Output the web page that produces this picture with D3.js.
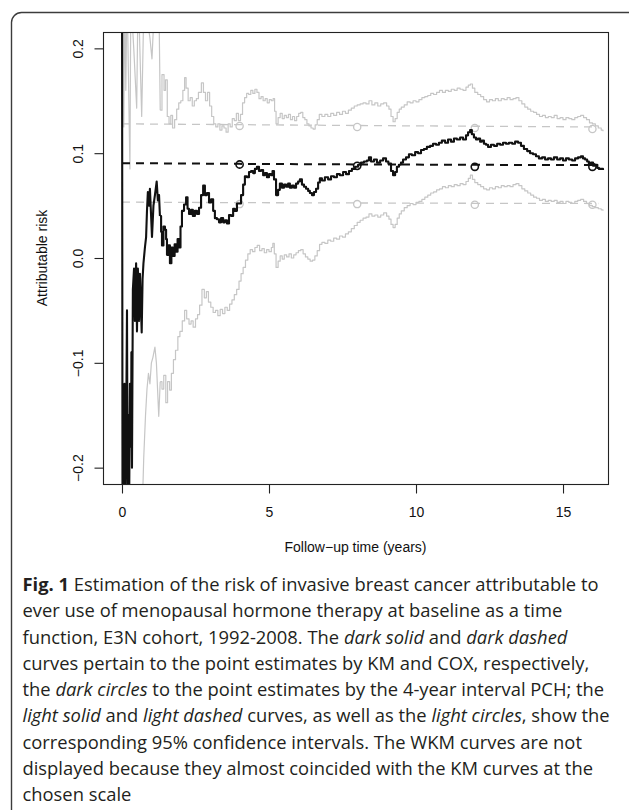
<!DOCTYPE html>
<html>
<head>
<meta charset="utf-8">
<script src="https://cdn.jsdelivr.net/npm/d3@7"></script>
<style>
  html, body { margin: 0; padding: 0; background: #fff; }
  svg { display: block; }
</style>
</head>
<body>
<div id="chart-container"></div>
<script>
// ---- data ----
const xTicks = [0, 5, 10, 15];
const yTicks = [-0.2, -0.1, 0.0, 0.1, 0.2];
const pchTimes = [4, 8, 12, 16];

// KM point estimate (dark solid)
const kmTime = [0.00, 0.02, 0.05, 0.07, 0.085, 0.10, 0.14, 0.17, 0.19, 0.22, 0.24, 0.27, 0.31, 0.32, 0.34, 0.37, 0.41, 0.44, 0.48, 0.51,
  0.54, 0.58, 0.61, 0.67, 0.70, 0.73, 0.78, 0.82, 0.85, 0.88, 0.92, 0.95, 0.99, 1.02, 1.07, 1.12, 1.18, 1.22, 1.26, 1.29,
  1.33, 1.36, 1.41, 1.46, 1.50, 1.53, 1.58, 1.63, 1.68, 1.73, 1.79, 1.84, 1.89, 1.94, 1.99, 2.04, 2.11, 2.18, 2.23, 2.28,
  2.35, 2.41, 2.48, 2.55, 2.62, 2.69, 2.76, 2.82, 2.89, 2.96, 3.03, 3.10, 3.16, 3.23, 3.30, 3.37, 3.44, 3.50, 3.57, 3.64,
  3.71, 3.78, 3.84, 3.91, 4.00, 4.05, 4.12, 4.18, 4.25, 4.32, 4.39, 4.46, 4.52, 4.59, 4.66, 4.73, 4.80, 4.86, 4.93, 5.00,
  5.07, 5.12, 5.17, 5.24, 5.31, 5.37, 5.44, 5.51, 5.58, 5.65, 5.71, 5.78, 5.85, 5.92, 5.99, 6.05, 6.12, 6.19, 6.26, 6.33,
  6.39, 6.46, 6.53, 6.60, 6.67, 6.73, 6.80, 6.90, 7.01, 7.11, 7.21, 7.31, 7.41, 7.52, 7.62, 7.72, 7.82, 7.93, 8.03, 8.13,
  8.23, 8.33, 8.40, 8.47, 8.57, 8.67, 8.78, 8.88, 8.98, 9.06, 9.15, 9.22, 9.29, 9.35, 9.42, 9.49, 9.56, 9.66, 9.76, 9.86,
  9.97, 10.07, 10.17, 10.27, 10.37, 10.48, 10.58, 10.68, 10.78, 10.88, 10.99, 11.09, 11.19, 11.29, 11.39, 11.50, 11.60, 11.70, 11.77, 11.84,
  11.90, 11.97, 12.04, 12.11, 12.18, 12.24, 12.31, 12.38, 12.45, 12.55, 12.65, 12.76, 12.86, 12.96, 13.06, 13.16, 13.27, 13.37, 13.47, 13.57,
  13.67, 13.78, 13.88, 13.98, 14.08, 14.18, 14.29, 14.39, 14.49, 14.59, 14.69, 14.80, 14.90, 15.00, 15.10, 15.20, 15.31, 15.41, 15.51, 15.61,
  15.68, 15.75, 15.82, 15.88, 15.95, 16.02, 16.09, 16.16, 16.22, 16.29, 16.36];
const kmValue = [0.30, -0.30, -0.25, -0.20, -0.12, -0.24, -0.17, -0.05, -0.22, -0.15, -0.25, -0.12, -0.18, -0.09, -0.20, -0.03, -0.01, -0.06, -0.005, -0.07,
  -0.01, -0.06, -0.015, -0.071, -0.02, -0.005, 0.010, 0.020, 0.045, 0.063, 0.050, 0.066, 0.040, 0.020, 0.050, 0.060, 0.073, 0.055, 0.060, 0.040,
  0.025, 0.012, 0.030, 0.027, 0.018, 0.003, 0.012, -0.005, 0.010, 0.002, 0.013, 0.006, 0.018, 0.010, 0.030, 0.045, 0.051, 0.058, 0.047, 0.042,
  0.046, 0.040, 0.045, 0.042, 0.048, 0.060, 0.069, 0.060, 0.062, 0.053, 0.056, 0.045, 0.038, 0.037, 0.034, 0.038, 0.034, 0.036, 0.033, 0.041,
  0.040, 0.047, 0.045, 0.052, 0.052, 0.060, 0.070, 0.078, 0.077, 0.082, 0.083, 0.081, 0.085, 0.087, 0.083, 0.084, 0.079, 0.081, 0.077, 0.080,
  0.079, 0.083, 0.075, 0.060, 0.065, 0.071, 0.067, 0.070, 0.068, 0.071, 0.067, 0.069, 0.067, 0.071, 0.073, 0.075, 0.070, 0.068, 0.066, 0.064,
  0.062, 0.060, 0.063, 0.066, 0.072, 0.076, 0.074, 0.077, 0.075, 0.078, 0.077, 0.080, 0.079, 0.082, 0.080, 0.083, 0.085, 0.087, 0.089, 0.091,
  0.092, 0.093, 0.096, 0.092, 0.094, 0.091, 0.093, 0.095, 0.092, 0.090, 0.083, 0.079, 0.082, 0.087, 0.089, 0.091, 0.094, 0.096, 0.099, 0.098,
  0.101, 0.100, 0.103, 0.104, 0.106, 0.107, 0.109, 0.108, 0.110, 0.112, 0.110, 0.113, 0.111, 0.114, 0.113, 0.115, 0.113, 0.117, 0.120, 0.122,
  0.118, 0.115, 0.113, 0.114, 0.111, 0.112, 0.109, 0.108, 0.106, 0.108, 0.107, 0.109, 0.108, 0.110, 0.109, 0.110, 0.109, 0.111, 0.110, 0.107,
  0.104, 0.102, 0.100, 0.099, 0.097, 0.095, 0.096, 0.094, 0.095, 0.094, 0.096, 0.094, 0.095, 0.093, 0.095, 0.094, 0.093, 0.095, 0.096, 0.097,
  0.095, 0.094, 0.092, 0.090, 0.091, 0.088, 0.089, 0.086, 0.085, 0.085, 0.084];

// KM 95% CI, upper (light solid)
const upperTime = [0.00, 0.04, 0.06, 0.09, 0.13, 0.17, 0.27, 0.30, 0.40, 0.50, 0.55, 0.67, 0.75, 0.85, 0.95, 1.02, 1.10, 1.25, 1.30, 1.36,
  1.43, 1.48, 1.54, 1.60, 1.66, 1.72, 1.79, 1.86, 1.93, 2.00, 2.07, 2.13, 2.18, 2.25, 2.32, 2.39, 2.46, 2.53, 2.60, 2.70,
  2.77, 2.84, 2.91, 2.98, 3.05, 3.12, 3.19, 3.26, 3.33, 3.40, 3.47, 3.54, 3.61, 3.68, 3.75, 3.82, 3.89, 3.96, 4.03, 4.10,
  4.17, 4.24, 4.31, 4.38, 4.45, 4.52, 4.59, 4.66, 4.73, 4.80, 4.87, 4.94, 5.01, 5.08, 5.14, 5.19, 5.24, 5.31, 5.38, 5.45,
  5.52, 5.59, 5.66, 5.73, 5.80, 5.87, 5.94, 6.01, 6.08, 6.15, 6.22, 6.29, 6.36, 6.43, 6.50, 6.57, 6.64, 6.71, 6.80, 6.90,
  7.00, 7.10, 7.20, 7.30, 7.40, 7.50, 7.60, 7.70, 7.80, 7.90, 8.00, 8.10, 8.20, 8.30, 8.40, 8.50, 8.60, 8.70, 8.80, 8.90,
  9.00, 9.08, 9.15, 9.22, 9.29, 9.36, 9.43, 9.50, 9.60, 9.70, 9.80, 9.90, 10.00, 10.10, 10.20, 10.30, 10.40, 10.50, 10.60, 10.70,
  10.80, 10.90, 11.00, 11.10, 11.20, 11.30, 11.40, 11.50, 11.60, 11.70, 11.78, 11.85, 11.92, 12.00, 12.10, 12.20, 12.30, 12.40, 12.50, 12.60,
  12.70, 12.80, 12.90, 13.00, 13.10, 13.20, 13.30, 13.40, 13.50, 13.60, 13.70, 13.80, 13.90, 14.00, 14.10, 14.20, 14.30, 14.40, 14.50, 14.60,
  14.70, 14.80, 14.90, 15.00, 15.10, 15.20, 15.30, 15.40, 15.50, 15.60, 15.70, 15.80, 15.90, 16.00, 16.10, 16.20, 16.30, 16.36];
const upperValue = [0.30, 0.24, 0.125, 0.25, 0.16, 0.26, 0.085, 0.25, 0.20, 0.143, 0.26, 0.135, 0.25, 0.23, 0.21, 0.19, 0.24, 0.26, 0.141, 0.175,
  0.160, 0.170, 0.135, 0.128, 0.136, 0.124, 0.132, 0.142, 0.148, 0.150, 0.160, 0.172, 0.162, 0.150, 0.153, 0.145, 0.150, 0.152, 0.158, 0.167,
  0.158, 0.150, 0.158, 0.145, 0.135, 0.128, 0.125, 0.128, 0.122, 0.126, 0.124, 0.120, 0.128, 0.125, 0.133, 0.131, 0.138, 0.131, 0.137, 0.148,
  0.153, 0.157, 0.156, 0.160, 0.157, 0.161, 0.158, 0.152, 0.154, 0.150, 0.152, 0.148, 0.151, 0.150, 0.152, 0.140, 0.128, 0.134, 0.138, 0.133,
  0.136, 0.134, 0.137, 0.132, 0.135, 0.131, 0.135, 0.138, 0.139, 0.134, 0.132, 0.128, 0.126, 0.124, 0.123, 0.127, 0.132, 0.137, 0.135, 0.137,
  0.135, 0.138, 0.136, 0.139, 0.137, 0.140, 0.138, 0.141, 0.143, 0.145, 0.146, 0.147, 0.148, 0.147, 0.150, 0.146, 0.148, 0.145, 0.147, 0.148,
  0.145, 0.142, 0.135, 0.130, 0.133, 0.139, 0.142, 0.144, 0.146, 0.149, 0.148, 0.150, 0.149, 0.151, 0.153, 0.154, 0.155, 0.157, 0.156, 0.158,
  0.160, 0.158, 0.160, 0.159, 0.161, 0.160, 0.162, 0.161, 0.160, 0.163, 0.165, 0.166, 0.162, 0.158, 0.156, 0.154, 0.151, 0.149, 0.151, 0.150,
  0.152, 0.150, 0.152, 0.151, 0.153, 0.151, 0.152, 0.153, 0.150, 0.147, 0.144, 0.142, 0.140, 0.139, 0.137, 0.135, 0.136, 0.134, 0.135, 0.134,
  0.136, 0.133, 0.134, 0.132, 0.134, 0.133, 0.132, 0.134, 0.135, 0.136, 0.134, 0.132, 0.129, 0.128, 0.126, 0.124, 0.122, 0.121];

// KM 95% CI, lower (light solid)
const lowerTime = [0.00, 0.68, 0.74, 0.80, 0.85, 0.90, 0.95, 1.00, 1.05, 1.12, 1.17, 1.25, 1.30, 1.36, 1.42, 1.49, 1.55, 1.62, 1.68, 1.75,
  1.82, 1.90, 1.97, 2.05, 2.13, 2.20, 2.28, 2.35, 2.42, 2.50, 2.57, 2.64, 2.72, 2.80, 2.87, 2.94, 3.02, 3.10, 3.18, 3.26,
  3.34, 3.42, 3.50, 3.58, 3.66, 3.74, 3.82, 3.90, 3.98, 4.05, 4.12, 4.20, 4.28, 4.36, 4.44, 4.52, 4.60, 4.68, 4.76, 4.84,
  4.92, 5.00, 5.08, 5.13, 5.18, 5.24, 5.31, 5.38, 5.45, 5.52, 5.60, 5.68, 5.76, 5.84, 5.92, 6.00, 6.08, 6.16, 6.24, 6.32,
  6.40, 6.48, 6.56, 6.64, 6.72, 6.80, 6.90, 7.00, 7.10, 7.20, 7.30, 7.40, 7.50, 7.60, 7.70, 7.80, 7.90, 8.00, 8.10, 8.20,
  8.30, 8.40, 8.50, 8.60, 8.70, 8.80, 8.90, 9.00, 9.08, 9.15, 9.22, 9.29, 9.36, 9.43, 9.50, 9.60, 9.70, 9.80, 9.90, 10.00,
  10.10, 10.20, 10.30, 10.40, 10.50, 10.60, 10.70, 10.80, 10.90, 11.00, 11.10, 11.20, 11.30, 11.40, 11.50, 11.60, 11.70, 11.78, 11.85, 11.92,
  12.00, 12.10, 12.20, 12.30, 12.40, 12.50, 12.60, 12.70, 12.80, 12.90, 13.00, 13.10, 13.20, 13.30, 13.40, 13.50, 13.60, 13.70, 13.80, 13.90,
  14.00, 14.10, 14.20, 14.30, 14.40, 14.50, 14.60, 14.70, 14.80, 14.90, 15.00, 15.10, 15.20, 15.30, 15.40, 15.50, 15.60, 15.70, 15.80, 15.90,
  16.00, 16.10, 16.20, 16.30, 16.36];
const lowerValue = [-0.40, -0.25, -0.19, -0.15, -0.125, -0.110, -0.120, -0.100, -0.095, -0.085, -0.100, -0.151, -0.118, -0.125, -0.112, -0.138, -0.118, -0.126, -0.110, -0.097,
  -0.088, -0.075, -0.070, -0.060, -0.050, -0.058, -0.063, -0.060, -0.066, -0.058, -0.054, -0.045, -0.030, -0.038, -0.032, -0.042, -0.047, -0.052, -0.050, -0.055,
  -0.049, -0.053, -0.047, -0.050, -0.044, -0.040, -0.035, -0.030, -0.022, -0.015, -0.009, -0.002, 0.004, 0.008, 0.006, 0.010, 0.012, 0.007, 0.009, 0.005,
  0.008, 0.006, 0.010, 0.014, 0.004, -0.009, -0.003, 0.002, -0.001, 0.003, 0.001, 0.004, 0.000, 0.003, 0.005, 0.007, 0.008, 0.004, 0.001, -0.001,
  -0.003, -0.002, 0.002, 0.007, 0.013, 0.015, 0.014, 0.017, 0.016, 0.019, 0.018, 0.021, 0.020, 0.023, 0.025, 0.028, 0.031, 0.034, 0.036, 0.038,
  0.039, 0.042, 0.040, 0.041, 0.039, 0.041, 0.043, 0.040, 0.037, 0.032, 0.029, 0.032, 0.038, 0.042, 0.045, 0.048, 0.050, 0.052, 0.051, 0.053,
  0.054, 0.056, 0.058, 0.060, 0.062, 0.063, 0.065, 0.066, 0.068, 0.067, 0.069, 0.068, 0.070, 0.069, 0.071, 0.070, 0.073, 0.076, 0.079, 0.075,
  0.072, 0.070, 0.068, 0.066, 0.065, 0.067, 0.066, 0.068, 0.067, 0.069, 0.068, 0.069, 0.068, 0.070, 0.071, 0.069, 0.066, 0.064, 0.062, 0.060,
  0.058, 0.057, 0.055, 0.056, 0.054, 0.055, 0.054, 0.055, 0.053, 0.054, 0.052, 0.054, 0.053, 0.052, 0.054, 0.055, 0.056, 0.054, 0.052, 0.050,
  0.049, 0.048, 0.047, 0.046, 0.045];

// COX point estimate and its CI (dashed)
const coxTime = [0, 4, 8, 12, 16.2];
const coxValue = [0.0905, 0.0898, 0.0893, 0.0889, 0.0886];
const coxUpper = [0.1280, 0.1272, 0.1264, 0.1257, 0.1250];
const coxLower = [0.0533, 0.0528, 0.0525, 0.0522, 0.0520];

// PCH point estimates (circles)
const pchValue = [0.0892, 0.0879, 0.0870, 0.0870];
const pchUpper = [0.1260, 0.1250, 0.1240, 0.1230];
const pchLower = [0.0514, 0.0514, 0.0508, 0.0508];

const captionLines = [
  [["b", "Fig. 1"], ["n", " Estimation of the risk of invasive breast cancer attributable to"]],
  [["n", "ever use of menopausal hormone therapy at baseline as a time"]],
  [["n", "function, E3N cohort, 1992-2008. The "], ["i", "dark solid"], ["n", " and "], ["i", "dark dashed"]],
  [["n", "curves pertain to the point estimates by KM and COX, respectively,"]],
  [["n", "the "], ["i", "dark circles"], ["n", " to the point estimates by the 4-year interval PCH; the"]],
  [["i", "light solid"], ["n", " and "], ["i", "light dashed"], ["n", " curves, as well as the "], ["i", "light circles"], ["n", ", show the"]],
  [["n", "corresponding 95% confidence intervals. The WKM curves are not"]],
  [["n", "displayed because they almost coincided with the KM curves at the"]],
  [["n", "chosen scale"]]
];

// ---- layout ----
const width = 629;
const height = 810;
const margin = ({top: 32, right: 21, bottom: 326, left: 103});
const light = "#c6c6c6";
const earlyEnd = 1.3; // the first, very noisy stretch is drawn as spikes, the rest as steps

const svg = d3.select("#chart-container")
    .append("svg")
    .attr("width", width)
    .attr("height", height);

// outer rounded frame (runs off the right and bottom edges)
svg.append("rect")
    .attr("x", 11.5).attr("y", 12.5)
    .attr("width", 700).attr("height", 900)
    .attr("rx", 10)
    .attr("fill", "none")
    .attr("stroke", "#3c3c3c")
    .attr("stroke-width", 1.4);

const x = d3.scaleLinear()
    .domain([-0.646, 16.53])
    .range([margin.left, width - margin.right]);

const y = d3.scaleLinear()
    .domain([-0.2156, 0.2156])
    .range([height - margin.bottom, margin.top]);

svg.append("clipPath").attr("id", "plot-clip")
    .append("rect")
    .attr("x", margin.left).attr("y", margin.top)
    .attr("width", width - margin.right - margin.left)
    .attr("height", height - margin.bottom - margin.top);

const plot = svg.append("g").attr("clip-path", "url(#plot-clip)");

const zip = (ts, vs) => ts.map((t, i) => ({t, v: vs[i]}));

const stepLine = d3.line()
    .x(d => x(d.t))
    .y(d => y(d.v))
    .curve(d3.curveStepAfter);

const straightLine = d3.line()
    .x(d => x(d.t))
    .y(d => y(d.v));

function drawCurve(ts, vs, color, lw) {
    const pts = zip(ts, vs);
    const early = pts.filter(d => d.t <= earlyEnd);
    const late = pts.filter(d => d.t >= (early.length ? early[early.length - 1].t : 0));
    [[early, straightLine], [late, stepLine]].forEach(([seg, gen]) => {
        if (seg.length < 2) return;
        plot.append("path")
            .datum(seg)
            .attr("d", gen)
            .attr("fill", "none")
            .attr("stroke", color)
            .attr("stroke-width", lw)
            .attr("stroke-linejoin", "round");
    });
}

// light dashed COX CI
[coxUpper, coxLower].forEach(vals => {
    plot.append("path")
        .datum(zip(coxTime, vals))
        .attr("d", straightLine)
        .attr("fill", "none")
        .attr("stroke", light)
        .attr("stroke-width", 1.3)
        .attr("stroke-dasharray", "8,6");
});

// light solid KM CI
drawCurve(upperTime, upperValue, light, 1.2);
drawCurve(lowerTime, lowerValue, light, 1.2);

// light circles
[pchUpper, pchLower].forEach(vals => {
    plot.append("g")
        .selectAll("circle")
        .data(zip(pchTimes, vals))
        .join("circle")
        .attr("cx", d => x(d.t))
        .attr("cy", d => y(d.v))
        .attr("r", 3.6)
        .attr("fill", "none")
        .attr("stroke", light)
        .attr("stroke-width", 1.3);
});

// dark dashed COX
plot.append("path")
    .datum(zip(coxTime, coxValue))
    .attr("d", straightLine)
    .attr("fill", "none")
    .attr("stroke", "#111")
    .attr("stroke-width", 2)
    .attr("stroke-dasharray", "8,6");

// dark solid KM
drawCurve(kmTime, kmValue, "#111", 2.1);

// dark circles (PCH)
plot.append("g")
    .selectAll("circle")
    .data(zip(pchTimes, pchValue))
    .join("circle")
    .attr("cx", d => x(d.t))
    .attr("cy", d => y(d.v))
    .attr("r", 3.6)
    .attr("fill", "none")
    .attr("stroke", "#111")
    .attr("stroke-width", 1.6);

// plot box
svg.append("rect")
    .attr("x", margin.left + 0.5)
    .attr("y", margin.top + 0.5)
    .attr("width", width - margin.right - margin.left)
    .attr("height", height - margin.bottom - margin.top)
    .attr("fill", "none")
    .attr("stroke", "#222")
    .attr("stroke-width", 1.1);

const axisFont = "'Liberation Sans', Arial, Helvetica, sans-serif";

// x axis
svg.append("g")
    .attr("transform", `translate(0,${height - margin.bottom + 0.5})`)
    .call(d3.axisBottom(x).tickValues(xTicks).tickSize(9).tickPadding(14).tickFormat(d3.format("d")))
    .call(g => g.select(".domain").remove())
    .call(g => g.selectAll(".tick line").attr("stroke", "#222").attr("stroke-width", 1.1))
    .call(g => g.selectAll(".tick text")
        .attr("fill", "#111")
        .style("font-family", axisFont)
        .style("font-size", "14px"));

// y axis, labels parallel to the axis
svg.append("g")
    .attr("transform", `translate(${margin.left + 0.5},0)`)
    .call(d3.axisLeft(y).tickValues(yTicks).tickSize(9).tickFormat(d3.format(".1f")))
    .call(g => g.select(".domain").remove())
    .call(g => g.selectAll(".tick line").attr("stroke", "#222").attr("stroke-width", 1.1))
    .call(g => g.selectAll(".tick text")
        .attr("x", null)
        .attr("text-anchor", "middle")
        .attr("transform", "translate(-26,0) rotate(-90)")
        .attr("dy", "0.36em")
        .attr("fill", "#111")
        .style("font-family", axisFont)
        .style("font-size", "14px"));

// axis titles
svg.append("text")
    .attr("x", (margin.left + width - margin.right) / 2)
    .attr("y", 552)
    .attr("text-anchor", "middle")
    .attr("fill", "#111")
    .style("font-family", axisFont)
    .style("font-size", "14px")
    .text("Follow\u2212up time (years)");

svg.append("text")
    .attr("transform", `translate(46.5,${(margin.top + height - margin.bottom) / 2}) rotate(-90)`)
    .attr("text-anchor", "middle")
    .attr("fill", "#111")
    .style("font-family", axisFont)
    .style("font-size", "14px")
    .text("Attributable risk");

// caption
const caption = svg.append("g")
    .style("font-family", "'Open Sans', 'Noto Sans', sans-serif")
    .style("font-size", "18px")
    .attr("fill", "#231f20");

captionLines.forEach((parts, i) => {
    const t = caption.append("text")
        .attr("x", 0)
        .attr("y", 591 + i * 26.3);
    parts.forEach(([kind, str]) => {
        const s = t.append("tspan").text(str);
        if (kind === "b") s.attr("font-weight", "bold");
        if (kind === "i") s.attr("font-style", "italic");
    });
});

// squeeze the caption horizontally so the first line spans the same width as in the figure
const firstWidth = caption.select("text").node().getComputedTextLength();
const sx = (599 - 22.5) / firstWidth;
caption.attr("transform", `translate(22.5,0) scale(${sx},1)`);
</script>
</body>
</html>
